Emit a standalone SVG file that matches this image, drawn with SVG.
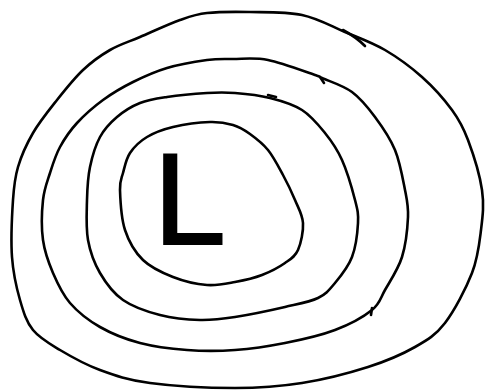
<svg xmlns="http://www.w3.org/2000/svg" width="485" height="390" viewBox="0 0 485 390">
<style>
.iso{fill:none;stroke:#000;stroke-width:2.6;stroke-linecap:round;stroke-linejoin:round}
.lbl{font-family:"Liberation Sans",Arial,sans-serif;font-size:130px;fill:#000;stroke:#000;stroke-width:2}
</style>
<rect width="485" height="390" fill="#fff"/>
<g id="isobar-1">
<path class="iso" d="M207,13 C218.7,11.7 234.2,11.7 250,12 S286.2,11.7 302,15 S331.2,26.2 345,32 S372.2,42.5 385,50 S410.8,67 422,77 S444.3,99.5 452,110 S463,126.7 468,140 S479.8,175 482,190 S482.7,216.2 481,230 S478,257.5 472,273 S454.5,310.7 445,323 S427.8,339.7 415,347 S386.8,361 368,367 S324.2,379.5 302,383 S260.3,388 235,388 S172.5,386 150,383 S115,375.5 100,370 S71.2,356.7 60,350 S39.7,338.3 33,330 S23.5,312.2 20,300 S13.2,273.7 12,257 S12,215 13,200 S14.7,178.2 18,167 S26.5,144.2 33,133 S48.7,110.5 57,100 S74.2,78.3 83,70 S100.5,55.5 110,50 S128.3,42 140,37 S168.8,24 180,20 S195.3,14.3 207,13 Z"/>
<path class="iso" d="M343,30 Q356,37 365,46"/>
</g>
<g id="isobar-2">
<path class="iso" d="M233,59 C243.2,59 254.3,57.3 268,60 S306,72 315,75 S315.8,75.2 322,78 S343.2,85.5 352,92 S367.8,107.3 375,117 S390,137.8 395,150 S402.8,178.8 405,190 S408.5,205.8 408,217 S405.8,244.8 402,257 S390,281.2 385,290 S380.3,303.3 372,310 S349.5,324.5 335,330 S301.7,339.7 285,343 S251.3,348.8 235,350 S202.8,351.2 187,350 S154.5,346.8 140,343 S111.7,333.7 100,327 S77.8,312 70,303 S57.5,283.5 53,273 S44.7,252.2 43,240 S41.8,211.2 43,200 S47.2,181.8 50,173 S55.5,155.3 60,147 S69.8,130.8 77,123 S93.7,106.8 103,100 S122.3,87.3 133,82 S154.7,71.7 167,68 S196,61.5 207,60 S222.8,59 233,59 Z"/>
<path class="iso" d="M320,77 L324,83"/>
<path class="iso" d="M372,308 L371,315"/>
</g>
<g id="isobar-3">
<path class="iso" d="M207,93 C218.3,92.3 224.5,92.2 235,93 S258.8,95.2 270,98 S292.8,104.2 302,110 S318.3,124.7 325,133 S337,148.8 342,160 S352.3,189.5 355,200 S358.5,213.5 358,223 S355.8,247 352,257 S340.7,276.2 335,283 S326.3,294 318,298 S298.8,303.8 285,307 S249.2,314.8 235,317 S212.5,320.3 200,320 S172.8,318.3 160,315 S133,307 123,300 S105.8,283 100,273 S90.2,252.2 88,240 S86.7,212.2 87,200 S87.8,177.5 90,167 S95.5,145.3 100,137 S110.3,122.7 117,117 S131.7,106.3 140,103 S155.8,98.7 167,97 S195.7,93.7 207,93 Z"/>
<path class="iso" d="M268,95 L276,97"/>
</g>
<g id="isobar-4">
<path class="iso" d="M210,122 C220,121.7 226.3,123 233,125 S244.2,129.8 250,134 S262.5,143.2 268,150 S278.5,166.7 283,175 S291.7,192 295,200 S302.5,214.7 303,223 S301,243.3 298,250 S291,258.8 285,263 S270.3,271.8 262,275 S244.2,280.3 235,282 S217.3,285.8 207,285 S183.7,281.2 173,277 S151,267.8 143,260 S128.8,241.7 125,230 S120.3,199.5 120,190 S121.3,179.2 123,173 S126,159 130,153 S139.8,141.3 147,137 S162.5,129.5 173,127 S200,122.3 210,122 Z"/>
</g>
<g id="low-label">
<text class="lbl" x="153.5" y="244">L</text>
</g>
</svg>
